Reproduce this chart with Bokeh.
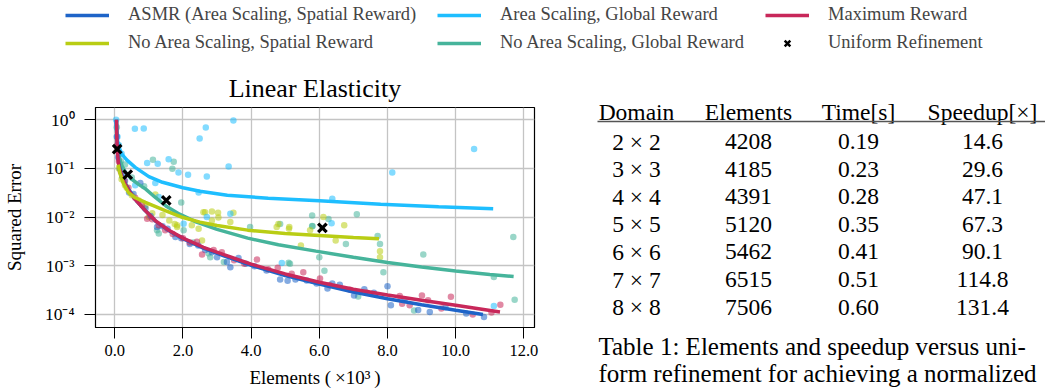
from bokeh.plotting import figure
from bokeh.models import Range1d, FixedTicker, Legend, LegendItem, PrintfTickFormatter
from bokeh.layouts import column, row
from bokeh.core.properties import value
from bokeh.embed import file_html
from bokeh.resources import INLINE

FONT = "Liberation Serif"

# ---------------- data ----------------
names = ["ASMR (Area Scaling, Spatial Reward)", "Area Scaling, Global Reward", "Maximum Reward",
         "No Area Scaling, Spatial Reward", "No Area Scaling, Global Reward", "Uniform Refinement"]
colors = ["#1e64c8", "#1ebeff", "#c8285a", "#b9cd14", "#46b49b", "black"]

# mean curves (x in 10^3 elements)
asmr_x = [0.05, 0.06, 0.08, 0.12, 0.2, 0.3, 0.45, 0.65, 0.9, 1.2, 1.6, 2.0, 2.6, 3.2, 4.0, 5.0, 6.0, 7.0, 8.0, 9.0, 10.0, 10.8]
asmr_y = [1.0, 0.5, 0.22, 0.12, 0.075, 0.05, 0.033, 0.021, 0.0135, 0.0082, 0.0052, 0.0036, 0.0023, 0.0016, 0.00102, 0.00063, 0.00042, 0.00029, 0.00021, 0.000158, 0.000122, 0.0001]
area_x = [0.03, 0.05, 0.08, 0.12, 0.2, 0.35, 0.6, 1.0, 1.4, 2.0, 2.5, 3.3, 4.5, 6.0, 7.8, 9.5, 11.1]
area_y = [1.0, 0.6, 0.38, 0.28, 0.2, 0.15, 0.105, 0.068, 0.052, 0.04, 0.034, 0.028, 0.0245, 0.0216, 0.0183, 0.0163, 0.0148]
maxr_x = [0.05, 0.06, 0.08, 0.12, 0.2, 0.3, 0.45, 0.65, 0.9, 1.2, 1.6, 2.0, 2.6, 3.2, 4.0, 5.0, 6.0, 7.0, 8.0, 9.0, 10.0, 11.3]
maxr_y = [1.0, 0.45, 0.2, 0.11, 0.07, 0.048, 0.032, 0.021, 0.0135, 0.0083, 0.0053, 0.0037, 0.0024, 0.0017, 0.00108, 0.00068, 0.00046, 0.00033, 0.00025, 0.000195, 0.000155, 0.000112]
nasp_x = [0.1, 0.15, 0.25, 0.4, 0.6, 0.9, 1.2, 1.5, 2.0, 2.5, 3.0, 3.9, 5.0, 6.0, 7.0, 7.75]
nasp_y = [0.12, 0.08, 0.05, 0.032, 0.025, 0.02, 0.0165, 0.0135, 0.0098, 0.0079, 0.0067, 0.0054, 0.0046, 0.0042, 0.0038, 0.0036]
nagl_x = [0.05, 0.07, 0.1, 0.15, 0.22, 0.32, 0.5, 0.7, 0.9, 1.2, 1.5, 1.9, 2.4, 3.0, 3.9, 4.8, 5.9, 7.0, 8.0, 9.0, 10.0, 11.0, 11.7]
nagl_y = [1.0, 0.4, 0.22, 0.15, 0.11, 0.083, 0.06, 0.047, 0.038, 0.025, 0.017, 0.0115, 0.0079, 0.0056, 0.0037, 0.0027, 0.002, 0.0015, 0.00117, 0.00094, 0.00078, 0.00066, 0.0006]
unif_x = [0.07, 0.38, 1.51, 6.09]
unif_y = [0.25, 0.075, 0.022, 0.006]

# individual runs (scatter)
asmr_px = [0.06, 0.1, 0.15, 0.22, 0.3, 0.42, 0.55, 0.75, 0.9, 1.05, 1.24, 1.4, 1.55, 1.78, 1.95, 2.2, 2.45, 2.65, 2.85, 3.0, 3.29, 3.39, 3.63, 3.85, 4.1, 4.45, 4.85, 5.07, 5.3, 5.63, 5.92, 6.24, 6.38, 6.6, 7.02, 7.32, 7.6, 8.0, 8.1, 8.5, 8.9, 9.24, 9.7, 10.31, 10.83]
asmr_py = [0.45, 0.17, 0.1, 0.07, 0.055, 0.032, 0.03, 0.05, 0.015, 0.0105, 0.0063, 0.0065, 0.0058, 0.0039, 0.0037, 0.0028, 0.0026, 0.0021, 0.0019, 0.0015, 0.0012, 0.00093, 0.00145, 0.0011, 0.00098, 0.0008, 0.00052, 0.00049, 0.00052, 0.0005, 0.00043, 0.00034, 0.00043, 0.00041, 0.000245, 0.00033, 0.00028, 0.00038, 0.000155, 0.0002, 0.000123, 0.000112, 0.00014, 0.000105, 0.000089]
maxr_px = [0.07, 0.12, 0.18, 0.28, 0.4, 0.6, 0.8, 0.95, 1.1, 1.29, 1.48, 1.7, 2.0, 2.2, 2.41, 2.56, 2.9, 3.14, 3.5, 3.8, 4.17, 4.5, 4.78, 5.19, 5.53, 6.02, 6.3, 6.9, 7.4, 8.36, 8.43, 8.65, 9.01, 9.19, 9.58, 9.86, 10.5, 11.05, 11.31]
maxr_py = [0.3, 0.14, 0.085, 0.055, 0.04, 0.025, 0.018, 0.0093, 0.009, 0.0068, 0.0054, 0.0045, 0.0037, 0.003, 0.0031, 0.0017, 0.0021, 0.0019, 0.0013, 0.0011, 0.00135, 0.00085, 0.00091, 0.00069, 0.00074, 0.00055, 0.0004, 0.00032, 0.00028, 0.00024, 0.000166, 0.000155, 0.000245, 0.000195, 0.000132, 0.00023, 0.0001, 0.00011, 0.000158]
area_px = [0.04, 0.08, 0.12, 0.2, 0.59, 0.6, 0.85, 0.95, 1.19, 1.26, 1.29, 1.58, 1.87, 2.02, 2.15, 2.46, 2.49, 2.67, 2.7, 2.7, 3.34, 3.39, 3.48, 4.9, 6.36, 6.38, 8.14, 10.54, 11.12]
area_py = [1.0, 0.45, 0.3, 0.2, 0.65, 0.045, 0.66, 0.13, 0.05, 0.125, 0.026, 0.155, 0.083, 0.0073, 0.074, 0.032, 0.41, 0.69, 0.068, 0.01, 0.11, 0.0117, 0.97, 0.00114, 0.0075, 0.0237, 0.083, 0.25, 0.00015]
nagl_px = [0.06, 0.1, 0.18, 0.3, 0.5, 0.86, 1.12, 1.24, 1.29, 1.69, 1.73, 1.95, 2.02, 2.3, 2.75, 2.8, 3.2, 3.97, 4.85, 5.1, 5.14, 5.79, 5.79, 5.8, 6.0, 6.15, 6.27, 6.78, 7.1, 7.14, 7.71, 7.78, 7.88, 8.78, 9.05, 11.12, 11.69, 11.73]
nagl_py = [0.7, 0.3, 0.14, 0.12, 0.065, 0.043, 0.15, 0.0054, 0.0046, 0.098, 0.138, 0.02, 0.0054, 0.003, 0.0018, 0.0015, 0.0012, 0.0063, 0.0072, 0.00115, 0.0011, 0.0108, 0.0066, 0.0065, 0.0015, 0.00079, 0.0091, 0.0028, 0.0115, 0.000235, 0.0041, 0.0028, 0.00074, 0.00012, 0.0017, 0.00059, 0.0039, 0.0002]
nasp_px = [0.12, 0.2, 0.3, 0.35, 0.5, 0.7, 0.9, 1.0, 1.1, 1.19, 1.4, 1.6, 1.76, 1.83, 1.83, 2.26, 2.46, 2.56, 2.6, 2.65, 2.85, 2.85, 3.03, 3.04, 3.39, 3.48, 4.75, 4.8, 5.11, 5.12, 5.46, 5.73, 6.12, 6.48, 6.73, 7.78, 7.78]
nasp_py = [0.1, 0.06, 0.045, 0.04, 0.028, 0.022, 0.017, 0.01, 0.012, 0.029, 0.011, 0.0085, 0.0072, 0.0068, 0.0063, 0.0068, 0.0058, 0.0033, 0.0126, 0.0126, 0.013, 0.0085, 0.0123, 0.0098, 0.0079, 0.0123, 0.0063, 0.0072, 0.0058, 0.0063, 0.0026, 0.0054, 0.01, 0.0033, 0.0068, 0.002, 0.0015]

x_ticks = [0, 2, 4, 6, 8, 10, 12]
y_ticks = [1e-4, 1e-3, 1e-2, 1e-1, 1.0]
y_tick_labels = {1.0: "10\u2070", 0.1: "10\u207b\u00b9", 0.01: "10\u207b\u00b2", 0.001: "10\u207b\u00b3", 0.0001: "10\u207b\u2074"}

tbl_header = ["Domain", "Elements", "Time[s]", "Speedup[\u00d7]"]
tbl_domain = ["2 \u00d7 2", "3 \u00d7 3", "4 \u00d7 4", "5 \u00d7 5", "6 \u00d7 6", "7 \u00d7 7", "8 \u00d7 8"]
tbl_elements = [4208, 4185, 4391, 5120, 5462, 6515, 7506]
tbl_time = ["0.19", "0.23", "0.28", "0.35", "0.41", "0.51", "0.60"]
tbl_speedup = ["14.6", "29.6", "47.1", "67.3", "90.1", "114.8", "131.4"]
caption = ["Table 1: Elements and speedup versus uni-", "form refinement for achieving a normalized"]

# ---------------- legend strip ----------------
W = 1045
LH = 56
leg = figure(width=W, height=LH, x_range=Range1d(0, 1), y_range=Range1d(0, 1),
             x_axis_type=None, y_axis_type=None, toolbar_location=None,
             output_backend="svg", min_border=0)
leg.frame_align = False
leg.outline_line_color = None
# legend proxies: drawn outside the visible range, only their legend glyphs show
lr = []
for c in colors[:5]:
    lr.append(leg.line(x=[5, 6], y=[5, 6], line_color=c, line_width=3.5))
lr.append(leg.scatter(x=[5], y=[5], marker="x", size=9, line_color="black", line_width=2.5))

def mk_legend(idx, xpos):
    return Legend(items=[LegendItem(label=names[i], renderers=[lr[i]]) for i in idx],
                  location=(xpos, 3), orientation="vertical", padding=0, margin=0, spacing=7,
                  glyph_width=44, glyph_height=20, label_height=20, label_standoff=19,
                  label_text_font=FONT, label_text_font_size="18.5px",
                  background_fill_alpha=0, border_line_alpha=0)

leg.add_layout(mk_legend([0, 3], 65))
leg.add_layout(mk_legend([1, 4], 437))
leg.add_layout(mk_legend([2, 5], 765))

# ---------------- main plot ----------------
PW, PH = 565, 335
p = figure(width=PW, height=PH, y_axis_type="log",
           x_range=Range1d(-0.565, 12.312), y_range=Range1d(10 ** -4.268, 10 ** 0.252),
           toolbar_location=None, output_backend="svg",
           min_border_left=94, min_border_right=PW - 534, min_border_top=51, min_border_bottom=64,
           title="Linear Elasticity")
p.frame_align = False
p.title.align = "center"
p.title.text_font = FONT
p.title.text_font_size = "26px"
p.title.text_font_style = "normal"
p.title.text_color = "black"

p.outline_line_color = "black"
p.outline_line_width = 1.2
p.outline_line_alpha = 1

p.xaxis.ticker = FixedTicker(ticks=x_ticks)
p.xaxis.formatter = PrintfTickFormatter(format="%.1f")
p.yaxis.ticker = FixedTicker(ticks=y_ticks)
p.yaxis.major_label_overrides = y_tick_labels
p.xgrid.ticker = FixedTicker(ticks=x_ticks)
p.ygrid.ticker = FixedTicker(ticks=y_ticks)
p.grid.grid_line_color = "#c4c4c4"
p.grid.grid_line_width = 1.3

for ax in (p.xaxis[0], p.yaxis[0]):
    ax.axis_line_color = "black"
    ax.major_tick_line_color = "black"
    ax.major_tick_out = 11
    ax.major_tick_in = 0
    ax.minor_tick_line_color = None
    ax.major_label_text_font = FONT
    ax.major_label_text_font_size = "16.5px"
    ax.major_label_text_color = "black"
    ax.axis_label_text_font = FONT
    ax.axis_label_text_font_size = "19px"
    ax.axis_label_text_font_style = "normal"
    ax.axis_label_text_color = "black"
p.yaxis.major_label_text_font_size = "17.5px"

p.xaxis.axis_label = "Elements (\u2009\u00d710\u00b3\u2009)"
p.yaxis.axis_label = "Squared Error"
p.xaxis.major_label_standoff = 6
p.yaxis.major_label_standoff = 10
p.xaxis.axis_label_standoff = 8
p.yaxis.axis_label_standoff = 17

# scatter of individual runs
SZ, AL = 6.5, 0.55
p.scatter(nagl_px, nagl_py, size=SZ, fill_color=colors[4], line_color=None, fill_alpha=AL)
p.scatter(nasp_px, nasp_py, size=SZ, fill_color=colors[3], line_color=None, fill_alpha=AL)
p.scatter(area_px, area_py, size=SZ, fill_color=colors[1], line_color=None, fill_alpha=AL)
p.scatter(asmr_px, asmr_py, size=SZ, fill_color=colors[0], line_color=None, fill_alpha=AL)
p.scatter(maxr_px, maxr_py, size=SZ, fill_color=colors[2], line_color=None, fill_alpha=AL)

# mean curves
LW = 3.5
p.line(nagl_x, nagl_y, line_color=colors[4], line_width=LW)
p.line(area_x, area_y, line_color=colors[1], line_width=LW)
p.line(asmr_x, asmr_y, line_color=colors[0], line_width=LW)
p.line(maxr_x, maxr_y, line_color=colors[2], line_width=LW)
p.line(nasp_x, nasp_y, line_color=colors[3], line_width=LW)
p.scatter(unif_x, unif_y, marker="x", size=12, line_color="black", line_width=3.2)

# ---------------- table ----------------
TW = W - PW
t = figure(width=TW, height=PH, x_range=Range1d(PW, W), y_range=Range1d(391, 391 - PH),
           x_axis_type=None, y_axis_type=None, toolbar_location=None,
           output_backend="svg", min_border=0)
t.frame_align = False
t.outline_line_color = None
col_x = [636, 748, 858, 982]
TFS = "23.5px"
t.text(x=col_x, y=[111] * 4, text=tbl_header, text_align="center", text_baseline="alphabetic",
       text_font=value(FONT), text_font_size=TFS, text_color="black")
t.segment(x0=[597], y0=[121], x1=[W], y1=[121], line_color="#555555", line_width=1.6)
row_y = [141 + 27.6 * i for i in range(len(tbl_domain))]
cols = [tbl_domain, [str(v) for v in tbl_elements], tbl_time, tbl_speedup]
for cx, vals in zip(col_x, cols):
    t.text(x=[cx] * len(vals), y=row_y, text=vals, text_align="center", text_baseline="alphabetic",
           text_font=value(FONT), text_font_size=TFS, text_color="black")
t.text(x=[598, 598], y=[346, 373], text=caption, text_align="left", text_baseline="alphabetic",
       text_font=value(FONT), text_font_size="25px", text_color="black")

layout = column(leg, row(p, t))
open("out.html", "w").write(file_html(layout, INLINE))
